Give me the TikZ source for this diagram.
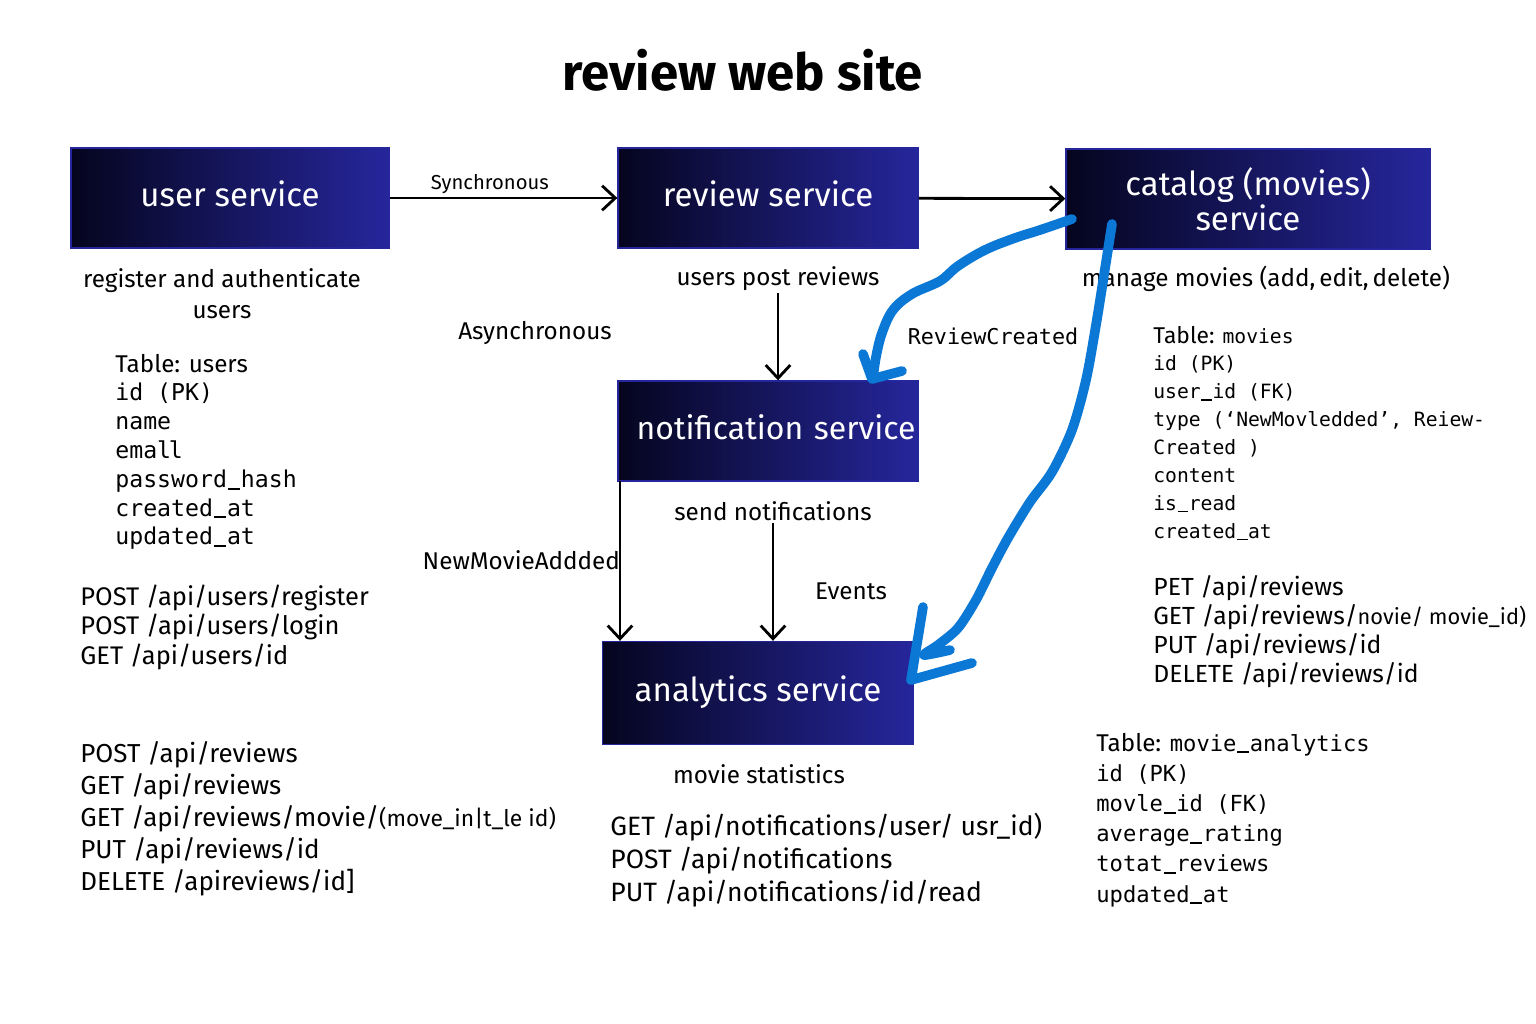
\documentclass[tikz,border=0pt]{standalone}
\usepackage{fontspec}
\setmainfont{Fira Sans}
\newfontfamily\codefont{DejaVu Sans Mono}
\usetikzlibrary{arrows.meta}
\definecolor{boxdark}{HTML}{05051F}
\definecolor{boxblue}{HTML}{26269C}
\definecolor{penblue}{HTML}{0B78D6}
% mono underscore that stays visible
\newcommand\usc{\kern0.03em\rule[-0.1em]{0.54em}{0.085em}\kern0.03em}
\tikzset{
  service/.style={draw=boxblue, line width=0.8pt, left color=boxdark, right color=boxblue,
    text=white, align=center, inner sep=0pt, font=\fontsize{18.8}{20}\selectfont},
  oneline/.style={text depth=4.6pt},
  heading/.style={font=\fontsize{29}{32}\bfseries},
  note/.style={font=\fontsize{13.8}{17.5}\selectfont, inner sep=1pt},
  api/.style={anchor=base west, inner sep=0pt, font=\fontsize{14.5}{16}\selectfont},
  code/.style={anchor=base west, inner sep=0pt, font=\codefont\fontsize{13.2}{16}\selectfont},
  flow/.style={line width=1.6pt, -{Straight Barb[length=7.5pt, width=14pt, line width=1.6pt]}},
  pen/.style={penblue, line width=5.5pt, line cap=round, line join=round}
}

\begin{document}
\begin{tikzpicture}[x=0.02cm, y=-0.02cm]
  \useasboundingbox (0,0) rectangle (1536,1024);
  % title
  \node[heading] (title) at (743,70) {review web site};
  % services
  \node[service, oneline, minimum width=6.36cm, minimum height=2cm] (user) at (230,198) {user service};
  \node[service, oneline, minimum width=6cm, minimum height=2cm] (review) at (768,198) {review service};
  \node[service, minimum width=7.28cm, minimum height=2cm] (catalog) at (1248,199) {catalog (movies)\\service};
  \node[service, oneline, minimum width=6cm, minimum height=2cm, text width=5.9cm, align=right,
    font=\fontsize{18.2}{20}\selectfont] (notif) at (768,431) {notification service};
  \node[service, oneline, minimum width=6.22cm, minimum height=2.06cm] (analytics) at (758,693) {analytics service};
  % descriptions
  \node[note, align=center] (userdesc) at (222,294) {register and authenticate\\users};
  \node[note] (revdesc) at (778,279) {users post reviews};
  \node[note] (catdesc) at (1266,279) {manage movies (add,\,edit,\,delete)};
  \node[note] (senddesc) at (773,511) {send notifications};
  \node[note] (statdesc) at (759,774) {movie statistics};
  % flow labels
  \node[note] (async) at (535,333) {Asynchronous};
  \node[note, anchor=east] (newmovie) at (622,560) {NewMovieAddded};
  \node[note] (events) at (851,591) {Events};
  \node[note, font=\codefont\fontsize{12.4}{16}\selectfont] (created) at (993,336) {ReviewCreated};
  % connectors
  \draw[flow] (user) -- node[pos=0.44, above=-2pt, font=\fontsize{11.5}{13}\selectfont] (sync) {Synchronous} (review);
  \draw[flow] (review) -- (catalog);
  \draw[flow] (revdesc.south) -- (revdesc.south |- notif.north);
  \draw[flow] (senddesc.south) -- (senddesc.south |- analytics.north);
  \coordinate (nl) at (620,481);
  \draw[flow] (nl) -- (nl |- analytics.north);
  % table users
  \node[api, font=\fontsize{13.8}{16}\selectfont] (utab) at (115,372) {Table: users};
  \foreach \t [count=\i] in {id (PK), name, emal\kern-.1em l, password\usc hash, created\usc at, updated\usc at}
    \node[code] (utab\i) at (115,{372+28.8*\i}) {\t};
  % user api
  \foreach \t [count=\i] in {POST /api/users/register, POST /api/users/login, GET /api/users/id}
    \node[api] (uapi\i) at (80,{605+29.5*(\i-1)}) {\t};
  % review api
  \foreach \t [count=\i] in {POST /api/reviews, GET /api/reviews, GET /api/reviews/movie/{\fontsize{13}{16}\selectfont(move\_in|t\_le id)}, PUT /api/reviews/id, DELETE /apireviews/id]}
    \node[api, font=\fontsize{14.8}{16}\selectfont] (rapi\i) at (80,{762+32.2*(\i-1)}) {\t};
  % notification api
  \foreach \t [count=\i] in {GET /api/notifications/user/ usr\_id), POST /api/notifications, PUT /api/notifications/id/read}
    \node[api, font=\fontsize{15.1}{16}\selectfont] (napi\i) at (610,{835+33*(\i-1)}) {\t};
  % table movies
  \node[api, font=\fontsize{13}{16}\selectfont] (mtab) at (1153,343) {Table: {\codefont\fontsize{11.2}{16}\selectfont movies}};
  \foreach \t [count=\i] in {id (PK), user\usc id (FK), {type (‘NewMovledded’, Reiew-}, Created ), content, is\usc read, created\usc at}
    \node[code, font=\codefont\fontsize{11.2}{16}\selectfont] (mtab\i) at (1153,{343+27.9*\i}) {\t};
  % movie api
  \foreach \t [count=\i] in {PET /api/reviews, GET /api/reviews/{\fontsize{12.4}{16}\selectfont novie/ movie\_id)}, PUT /api/reviews/id, DELETE /api/reviews/id}
    \node[api, font=\fontsize{14.1}{16}\selectfont] (mapi\i) at (1153,{595+29*(\i-1)}) {\t};
  % table movie_analytics
  \node[api, font=\fontsize{13.8}{16}\selectfont] (atab) at (1096,751) {Table: {\codefont\fontsize{12.6}{16}\selectfont movie\usc analytics}};
  \foreach \t [count=\i] in {id (PK), movle\usc id (FK), average\usc rating, totat\usc reviews, updated\usc at}
    \node[code, font=\codefont\fontsize{12.6}{16}\selectfont] (atab\i) at (1096,{751+30.2*\i}) {\t};
  % hand drawn event arrows
  \draw[pen] plot[smooth, tension=0.6] coordinates {(1072,219) (1040,230) (1015,238) (985,250) (958,266) (940,281) (912,294) (893,310) (882,333) (876,357) (873,378)};
  \draw[pen] (863,354) -- (872,379) -- (902,371);
  \draw[pen] plot[smooth, tension=0.5] coordinates {(1112,224) (1104,275) (1096,325) (1086,380) (1072,430) (1052,472) (1030,502) (1008,538) (992,568) (976,600) (958,628) (938,645) (924,655) (950,650)};
  \draw[pen] (923,607) -- (911,680) -- (972,663);
\end{tikzpicture}
\end{document}
